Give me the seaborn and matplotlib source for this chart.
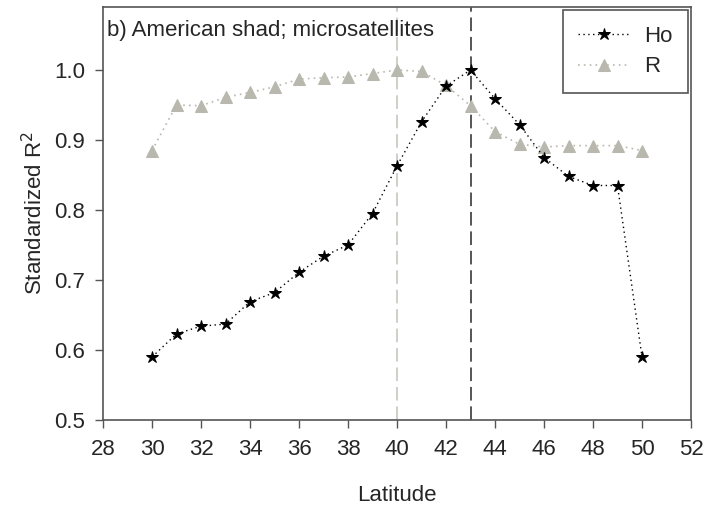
import numpy as np
import pandas as pd
import matplotlib
matplotlib.use("Agg")
import matplotlib.pyplot as plt
import seaborn as sns

# Latitude and standardized R^2 values for each statistic
latitude = [30, 31, 32, 33, 34, 35, 36, 37, 38, 39, 40,
            41, 42, 43, 44, 45, 46, 47, 48, 49, 50]
ho_values = [0.590, 0.623, 0.634, 0.637, 0.669, 0.682, 0.711, 0.734, 0.750, 0.795, 0.863,
             0.926, 0.977, 1.000, 0.959, 0.922, 0.875, 0.848, 0.835, 0.835, 0.590]
r_values = [0.885, 0.950, 0.949, 0.961, 0.968, 0.976, 0.987, 0.989, 0.990, 0.995, 1.000,
            0.998, 0.978, 0.949, 0.912, 0.894, 0.890, 0.892, 0.892, 0.892, 0.885]
peak_lines = [40, 43]
x_ticks = list(range(28, 53, 2))
y_ticks = [0.5, 0.6, 0.7, 0.8, 0.9, 1.0]
panel_title = "b) American shad; microsatellites"

sns.set_style("white")
plt.rcParams["font.family"] = ["Liberation Sans", "DejaVu Sans"]

df = pd.DataFrame({
    "Latitude": latitude * 2,
    "value": ho_values + r_values,
    "series": ["Ho"] * len(latitude) + ["R"] * len(latitude),
})

fig = plt.figure(figsize=(7.08, 5.09), dpi=100)
ax = fig.add_axes([0.1455, 0.1749, 0.8305, 0.8113])

grey_line = "#555555"
r_colour = "#b8b8ae"
fs = 16

ax.axvline(peak_lines[0], color="#cfcfca", lw=1.4, dashes=(7, 3), zorder=1)
ax.axvline(peak_lines[1], color="#555555", lw=1.4, dashes=(7, 3), zorder=1)

sns.lineplot(data=df[df.series == "Ho"], x="Latitude", y="value", ax=ax,
             color="black", lw=1.0, linestyle=(0, (1, 2.5)),
             marker="*", markersize=9, markeredgecolor="black",
             markerfacecolor="black", label="Ho", zorder=4)
sns.lineplot(data=df[df.series == "R"], x="Latitude", y="value", ax=ax,
             color=r_colour, lw=1.2, linestyle=(0, (1, 2.5)),
             marker="^", markersize=8, markeredgecolor=r_colour,
             markerfacecolor=r_colour, label="R", zorder=3)

ax.set_xlim(28, 52)
ax.set_ylim(0.5, 1.09)
ax.set_xticks(x_ticks)
ax.set_yticks(y_ticks)
ax.set_yticklabels([f"{v:.1f}" for v in y_ticks])

for side in ["left", "bottom", "top", "right"]:
    ax.spines[side].set_color(grey_line)
    ax.spines[side].set_linewidth(1.2)
ax.tick_params(axis="both", which="major", direction="out", length=6,
               width=1.0, color=grey_line, labelsize=fs, pad=7,
               bottom=True, left=True, top=False, right=False)
ax.tick_params(axis="x", pad=8)

ax.set_xlabel("Latitude", fontsize=fs, labelpad=18)
ax.set_ylabel("Standardized R$^2$", fontsize=fs, labelpad=5)

ax.text(0.007, 0.968, panel_title, transform=ax.transAxes, fontsize=fs,
        ha="left", va="top")

leg = ax.legend(loc="upper right", fontsize=fs, frameon=True, fancybox=False,
                borderpad=0.7, handlelength=2.3, handletextpad=0.65,
                labelspacing=0.43, borderaxespad=0.15)
leg.get_frame().set_edgecolor(grey_line)
leg.get_frame().set_linewidth(1.2)
leg.get_frame().set_alpha(1.0)

fig.savefig("out.png", dpi=100, facecolor="white")
